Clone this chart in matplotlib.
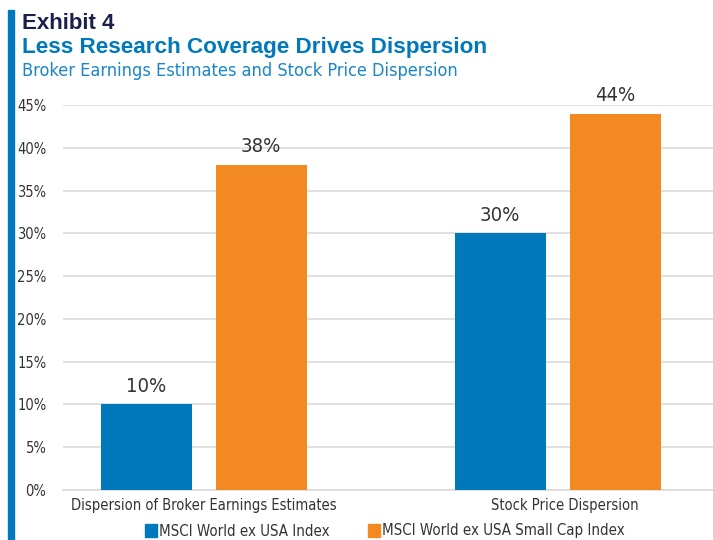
import numpy as np
import matplotlib
matplotlib.use("Agg")
import matplotlib.pyplot as plt
from matplotlib.patches import Rectangle

# data
categories = ["Dispersion of Broker Earnings Estimates", "Stock Price Dispersion"]
series_names = ["MSCI World ex USA Index", "MSCI World ex USA Small Cap Index"]
large_cap = [10, 30]
small_cap = [38, 44]
yticks = [0, 5, 10, 15, 20, 25, 30, 35, 40, 45]

BLUE = "#0079BC"
ORANGE = "#F28A21"
NAVY = "#1B1F4B"
TXT = "#333333"
NARROW = dict(family="DejaVu Sans", stretch="condensed")
WIDE = dict(family="Liberation Sans", stretch="normal", fontweight="bold")

W, H = 713, 540
fig = plt.figure(figsize=(W / 100, H / 100), dpi=100)

# axes: left 63px, right 713px, top(45%)=105px, bottom(0%)=490px
ax = fig.add_axes([63 / W, 1 - 490 / H, 650 / W, (490 - 105) / H])

x = np.arange(len(categories))
bw = 0.257
off = 0.1624
ax.bar(x - off, large_cap, bw, color=BLUE, zorder=3)
ax.bar(x + off, small_cap, bw, color=ORANGE, zorder=3)

for xi, v in zip(x - off, large_cap):
    ax.text(xi, v + 1.0, f"{v}%", ha="center", va="bottom", fontsize=14.5,
            color=TXT, **NARROW)
for xi, v in zip(x + off, small_cap):
    ax.text(xi, v + 1.0, f"{v}%", ha="center", va="bottom", fontsize=14.5,
            color=TXT, **NARROW)

ax.set_xlim(-0.397, 1.439)
ax.set_ylim(0, 45)
ax.set_yticks(yticks)
ax.set_yticklabels([f"{t}%" for t in yticks], fontsize=10.5, color=TXT, **NARROW)
ax.set_xticks(x + np.array([0.0, 0.02]))
ax.set_xticklabels(categories, fontsize=10.5, color=TXT, **NARROW)
ax.tick_params(axis="both", length=0)
ax.tick_params(axis="y", pad=12)
ax.tick_params(axis="x", pad=6)

ax.grid(axis="y", color="#D9D9D9", linewidth=1.1, zorder=0)
for s in ["top", "right", "left"]:
    ax.spines[s].set_visible(False)
ax.spines["bottom"].set_color("#D9D9D9")
ax.spines["bottom"].set_linewidth(1.1)

# legend
handles = [Rectangle((0, 0), 1, 1, color=c) for c in (BLUE, ORANGE)]
fig.legend(handles, series_names, loc="center", bbox_to_anchor=(385 / W, 1 - 531 / H),
           ncol=2, frameon=False, handlelength=0.75, handleheight=0.95, handletextpad=0.15,
           columnspacing=2.6, prop={"size": 10.8, **NARROW}, labelcolor=TXT)

# left accent bar
fig.patches.append(Rectangle((8 / W, 0), 6 / W, 1 - 10 / H, transform=fig.transFigure,
                             color=BLUE, zorder=5))

# titles
fig.text(22 / W, 1 - 29 / H, "Exhibit 4", fontsize=16, color=NAVY, va="baseline", **WIDE)
fig.text(22 / W, 1 - 53 / H, "Less Research Coverage Drives Dispersion", fontsize=16.2,
         color=BLUE, va="baseline", **WIDE)
fig.text(22 / W, 1 - 76 / H, "Broker Earnings Estimates and Stock Price Dispersion",
         fontsize=13, color="#1A86C8", va="baseline", **NARROW)

fig.savefig("out.png", dpi=100)
